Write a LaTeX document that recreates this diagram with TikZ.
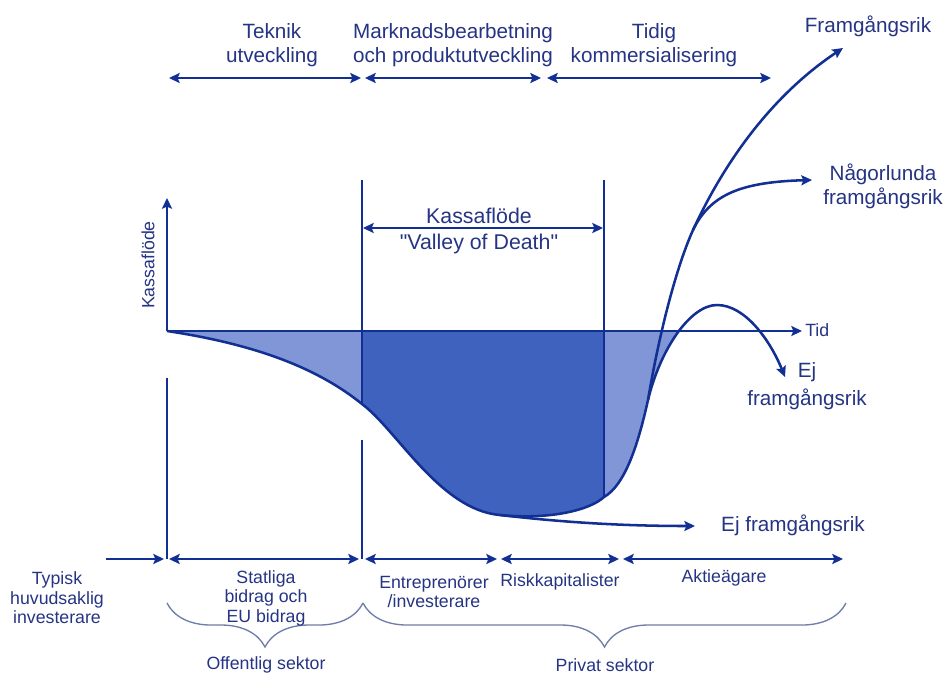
\documentclass[tikz,border=0pt]{standalone}
\usepackage{fontspec}
\setmainfont{Liberation Sans}[Ligatures=TeXOff]
\usetikzlibrary{arrows.meta,decorations.pathreplacing}
\definecolor{txt}{RGB}{38,52,132}
\definecolor{ln}{RGB}{18,48,148}
\definecolor{darkfill}{RGB}{63,98,190}
\definecolor{lightfill}{RGB}{128,150,214}
\definecolor{bracecol}{RGB}{110,125,170}
\newcommand\valleypath{(167,331) .. controls (260,345) and (320,370) .. (362,404) .. controls (397,430) and (440,510) .. (500,515) .. controls (550,520) and (590,510) .. (604,497) .. controls (625,485) and (638,445) .. (648,400) .. controls (660,350) and (690,305) .. (717,305)}
\begin{document}
\begin{tikzpicture}[x=0.75pt,y=-0.75pt,
  bigtxt/.style={text=txt,font=\fontsize{15.5}{18}\selectfont,align=center,inner sep=0pt},
  smalltxt/.style={text=txt,font=\fontsize{13.3}{14.6}\selectfont,align=center,inner sep=0pt},
  thick line/.style={draw=ln,line width=2.2pt},
  thin line/.style={draw=ln,line width=1.5pt},
  curve/.style={draw=ln,line width=1.9pt},
  arr/.style={-{Stealth[length=8pt,width=7.5pt,inset=1.5pt]}},
  darr/.style={{Stealth[length=8pt,width=7.5pt,inset=1.5pt]}-{Stealth[length=8pt,width=7.5pt,inset=1.5pt]}},
  bracestyle/.style={draw=bracecol,line width=1pt,decorate}
]
\useasboundingbox (0,0) rectangle (948,675);
\fill[white] (0,0) rectangle (948,675);

% fills
\begin{scope}
  \clip (167,331) rectangle (948,675);
  \fill[lightfill] \valleypath -- cycle;
  \clip (362,331) rectangle (604,675);
  \fill[darkfill] \valleypath -- cycle;
\end{scope}

% coordinates
\coordinate (O) at (167,331);
\coordinate (Ytop) at (167,198);
\coordinate (Xend) at (802,331);
\coordinate (brA) at (648,400);
\coordinate (brB) at (693,230);
\coordinate (bottom) at (500,515);

% axes
\draw[thin line,arr] (O) -- (Ytop);
\draw[thin line,arr] (O) -- (Xend);

% vertical lines
\coordinate (v1a) at (167,378); \coordinate (v1b) at (167,559);
\coordinate (v2a) at (362,180); \coordinate (v2b) at (362,404);
\coordinate (v2c) at (362,440); \coordinate (v2d) at (362,559);
\coordinate (v3a) at (604,180); \coordinate (v3b) at (604,497);
\draw[thin line] (v1a) -- (v1b);
\draw[thin line] (v2a) -- (v2b);
\draw[thin line] (v2c) -- (v2d);
\draw[thin line] (v3a) -- (v3b);

% curves
\draw[curve,arr] \valleypath .. controls (745,305) and (770,340) .. (785,377);
\draw[curve,arr] (brA) .. controls (658,340) and (675,270) .. (brB) .. controls (730,150) and (780,90) .. (843,48);
\draw[curve,arr] (brB) .. controls (710,195) and (740,182) .. (812,180);
\draw[curve,arr] (bottom) .. controls (560,522) and (620,526) .. (695,526);

% top phase arrows
\coordinate (t1) at (169,78); \coordinate (t2) at (361,78);
\coordinate (t3) at (365,78); \coordinate (t4) at (541,78);
\coordinate (t5) at (547,78); \coordinate (t6) at (771,78);
\draw[thick line,darr] (t1) -- (t2);
\draw[thick line,darr] (t3) -- (t4);
\draw[thick line,darr] (t5) -- (t6);

% valley arrow
\coordinate (k1) at (363,228); \coordinate (k2) at (603,228);
\draw[thin line,darr] (k1) -- (k2);

% bottom arrows
\coordinate (b0) at (106,559); \coordinate (b1) at (164,559);
\coordinate (b2) at (169,559); \coordinate (b3) at (359,559);
\coordinate (b4) at (365,559); \coordinate (b5) at (497,559);
\coordinate (b6) at (501,559); \coordinate (b7) at (619,559);
\coordinate (b8) at (623,559); \coordinate (b9) at (843,559);
\draw[thick line,arr] (b0) -- (b1);
\draw[thick line,darr] (b2) -- (b3);
\draw[thick line,darr] (b4) -- (b5);
\draw[thick line,darr] (b6) -- (b7);
\draw[thick line,darr] (b8) -- (b9);

% braces
\coordinate (br1a) at (363,603); \coordinate (br1b) at (167,603);
\coordinate (br2a) at (846,603); \coordinate (br2b) at (363,603);
\draw[bracestyle,decoration={brace,amplitude=33pt}] (br1a) -- (br1b);
\draw[bracestyle,decoration={brace,amplitude=33pt}] (br2a) -- (br2b);

% texts
\node[bigtxt] (teknik) at (272,45) {Teknik\\utveckling};
\node[bigtxt] (mark) at (453,45) {Marknadsbearbetning\\och produktutveckling};
\node[bigtxt] (tidig) at (654,45) {Tidig\\kommersialisering};
\node[bigtxt] (fram) at (868,26) {Framgångsrik};
\node[bigtxt] (nagor) at (883,186) {Någorlunda\\framgångsrik};
\node[bigtxt,font=\fontsize{15.5}{21}\selectfont] (ej1) at (807,386) {Ej\\framgångsrik};
\node[bigtxt] (ej2) at (793,525) {Ej framgångsrik};
\node[bigtxt,font=\fontsize{16}{19.5}\selectfont] (kassa) at (479,231) {Kassaflöde\\"Valley of Death"};
\node[smalltxt,rotate=90] (kassay) at (148,265) {Kassaflöde};
\node[smalltxt,anchor=west] (tid) at (805,330) {Tid};
\node[smalltxt] (typisk) at (57,598) {Typisk\\huvudsaklig\\investerare};
\node[smalltxt] (statliga) at (266,598) {Statliga\\bidrag och\\EU bidrag};
\node[smalltxt] (entre) at (434,592) {Entreprenörer\\/investerare};
\node[smalltxt] (risk) at (560,582) {Riskkapitalister};
\node[smalltxt] (aktie) at (724,578) {Aktieägare};
\node[smalltxt] (offentlig) at (266,665) {Offentlig sektor};
\node[smalltxt] (privat) at (605,665) {Privat sektor};
\end{tikzpicture}
\end{document}
